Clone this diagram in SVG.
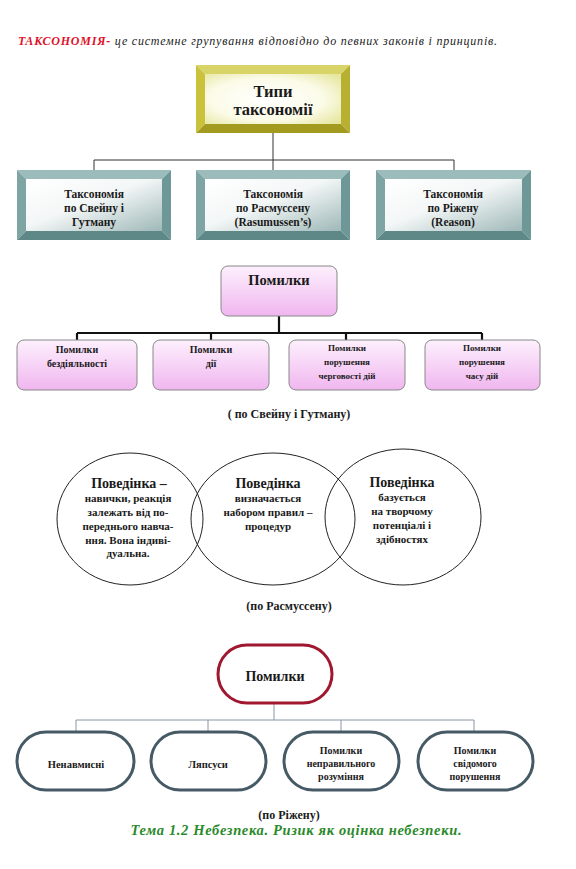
<svg xmlns="http://www.w3.org/2000/svg" width="576" height="869" viewBox="0 0 576 869">
<defs>
<linearGradient id="tealIn" x1="0" y1="0" x2="1" y2="1">
<stop offset="0" stop-color="#ffffff"/><stop offset="0.45" stop-color="#f4f7f7"/><stop offset="1" stop-color="#9fb8b8"/>
</linearGradient>
<radialGradient id="yelIn" cx="0.45" cy="0.5" r="0.7">
<stop offset="0" stop-color="#ffffff"/><stop offset="0.6" stop-color="#fbfbe8"/><stop offset="1" stop-color="#e6e6a0"/>
</radialGradient>
<linearGradient id="pink" x1="0" y1="0" x2="0" y2="1">
<stop offset="0" stop-color="#fdf0fd"/><stop offset="1" stop-color="#f0b6ef"/>
</linearGradient>
<style>
text{font-family:"Liberation Serif","Times New Roman",Times,"Noto Serif","DejaVu Serif",serif}
.t{font-weight:bold;fill:#1a1a1a;text-anchor:middle}
.ell{fill:none;stroke:#222;stroke-width:1}
.pk{fill:url(#pink);stroke:#888;stroke-width:1}
.rs{fill:#fff;stroke:#465a66;stroke-width:3}
</style>
</defs>

<text x="18" y="45" font-size="12" font-style="italic" textLength="479" lengthAdjust="spacing"><tspan fill="#e0102a" font-weight="bold">ТАКСОНОМІЯ-</tspan><tspan fill="#222"> це системне групування відповідно до певних законів і принципів.</tspan></text>

<g id="connectors">
<path d="M273 133V160M94 160H454M94 160V170M273 160V170M454 160V170" fill="none" stroke="#333" stroke-width="1"/>
<path d="M279 316V333M77 333H482M77 333V340M211 333V340M346 333V340M482 333V340" fill="none" stroke="#111" stroke-width="2.2"/>
<path d="M274 703V720M76 720H474M76 720V732M208 720V732M341 720V732M474 720V732" fill="none" stroke="#8a96a4" stroke-width="1"/>
</g>

<g id="types">
<polygon points="196,65 350,65 341,74 205,74" fill="#d8d468"/>
<polygon points="196,65 205,74 205,124 196,133" fill="#c9c23a"/>
<polygon points="350,65 350,133 341,124 341,74" fill="#b8b030"/>
<polygon points="196,133 205,124 341,124 350,133" fill="#a39a20"/>
<rect x="205" y="74" width="136" height="50" fill="url(#yelIn)"/>
<text class="t" x="273" y="97" font-size="16.5">Типи</text>
<text class="t" x="273" y="115" font-size="16.5">таксономії</text>
</g>

<g id="tax1">
<polygon points="17,170 171,170 162,179 26,179" fill="#9cbcbc"/>
<polygon points="17,170 26,179 26,231 17,240" fill="#7ea4a4"/>
<polygon points="171,170 171,240 162,231 162,179" fill="#6e9898"/>
<polygon points="17,240 26,231 162,231 171,240" fill="#5e8888"/>
<rect x="26" y="179" width="136" height="52" fill="url(#tealIn)"/>
<text class="t" x="94" y="198" font-size="11.5">Таксономія</text>
<text class="t" x="94" y="212" font-size="11.5">по Свейну  і</text>
<text class="t" x="94" y="226" font-size="11.5">Гутману</text>
</g>
<g id="tax2">
<polygon points="196,170 350,170 341,179 205,179" fill="#9cbcbc"/>
<polygon points="196,170 205,179 205,231 196,240" fill="#7ea4a4"/>
<polygon points="350,170 350,240 341,231 341,179" fill="#6e9898"/>
<polygon points="196,240 205,231 341,231 350,240" fill="#5e8888"/>
<rect x="205" y="179" width="136" height="52" fill="url(#tealIn)"/>
<text class="t" x="273" y="198" font-size="11.5">Таксономія</text>
<text class="t" x="273" y="212" font-size="11.5">по Расмуссену</text>
<text class="t" x="273" y="226" font-size="11.5">(Rasumussen’s)</text>
</g>
<g id="tax3">
<polygon points="376,170 531,170 522,179 385,179" fill="#9cbcbc"/>
<polygon points="376,170 385,179 385,231 376,240" fill="#7ea4a4"/>
<polygon points="531,170 531,240 522,231 522,179" fill="#6e9898"/>
<polygon points="376,240 385,231 522,231 531,240" fill="#5e8888"/>
<rect x="385" y="179" width="137" height="52" fill="url(#tealIn)"/>
<text class="t" x="453" y="198" font-size="11.5">Таксономія</text>
<text class="t" x="453" y="212" font-size="11.5">по Ріжену</text>
<text class="t" x="453" y="226" font-size="11.5">(Reason)</text>
</g>

<g id="errors1">
<rect class="pk" x="221" y="266" width="116" height="50" rx="7"/>
<text class="t" x="279" y="285" font-size="14.5">Помилки</text>
</g>
<g id="e1"><rect class="pk" x="17" y="340" width="120" height="50" rx="7"/>
<text class="t" x="77" y="353" font-size="10">Помилки</text><text class="t" x="77" y="367" font-size="10">бездіяльності</text></g>
<g id="e2"><rect class="pk" x="153" y="340" width="116" height="50" rx="7"/>
<text class="t" x="211" y="353" font-size="10">Помилки</text><text class="t" x="211" y="367" font-size="10">дії</text></g>
<g id="e3"><rect class="pk" x="289" y="340" width="116" height="50" rx="7"/>
<text class="t" x="347" y="351" font-size="9">Помилки</text><text class="t" x="347" y="365" font-size="9">порушення</text><text class="t" x="347" y="379" font-size="9">черговості дій</text></g>
<g id="e4"><rect class="pk" x="425" y="340" width="115" height="50" rx="7"/>
<text class="t" x="482" y="351" font-size="9">Помилки</text><text class="t" x="482" y="365" font-size="9">порушення</text><text class="t" x="482" y="379" font-size="9">часу дій</text></g>
<text class="t" x="289" y="418" font-size="12">( по Свейну і Гутману)</text>

<g id="venn1"><ellipse class="ell" cx="130" cy="519" rx="73" ry="66"/>
<text class="t" x="129" y="488" font-size="14">Поведінка –</text>
<text class="t" x="128" y="502" font-size="11">навички, реакція</text>
<text class="t" x="128" y="516" font-size="11">залежать від  по-</text>
<text class="t" x="128" y="530" font-size="11">переднього навча-</text>
<text class="t" x="128" y="544" font-size="11">ння. Вона індиві-</text>
<text class="t" x="128" y="557" font-size="11">дуальна.</text></g>
<g id="venn2"><ellipse class="ell" cx="273" cy="519" rx="82" ry="66"/>
<text class="t" x="268" y="488" font-size="14">Поведінка</text>
<text class="t" x="268" y="502" font-size="11">визначається</text>
<text class="t" x="268" y="516" font-size="11">набором правил –</text>
<text class="t" x="268" y="530" font-size="11">процедур</text></g>
<g id="venn3"><ellipse class="ell" cx="403" cy="517" rx="78" ry="68"/>
<text class="t" x="402" y="487" font-size="14">Поведінка</text>
<text class="t" x="402" y="501" font-size="11">базується</text>
<text class="t" x="402" y="515" font-size="11">на творчому</text>
<text class="t" x="402" y="529" font-size="11">потенціалі і</text>
<text class="t" x="402" y="543" font-size="11">здібностях</text></g>
<text class="t" x="289" y="610" font-size="12">(по Расмуссену)</text>

<g id="errors2"><rect x="218" y="645" width="114" height="58" rx="29" fill="#fff" stroke="#a01830" stroke-width="3"/>
<text class="t" x="275" y="681" font-size="14">Помилки</text></g>
<g id="r1"><rect class="rs" x="17" y="732" width="117" height="58" rx="29"/>
<text class="t" x="76" y="768" font-size="10.5">Ненавмисні</text></g>
<g id="r2"><rect class="rs" x="151" y="732" width="115" height="58" rx="29"/>
<text class="t" x="208" y="768" font-size="10.5">Ляпсуси</text></g>
<g id="r3"><rect class="rs" x="284" y="732" width="115" height="58" rx="29"/>
<text class="t" x="341" y="754" font-size="10">Помилки</text><text class="t" x="341" y="767" font-size="10">неправильного</text><text class="t" x="341" y="780" font-size="10">розуміння</text></g>
<g id="r4"><rect class="rs" x="418" y="732" width="115" height="58" rx="29"/>
<text class="t" x="475" y="754" font-size="10">Помилки</text><text class="t" x="475" y="767" font-size="10">свідомого</text><text class="t" x="475" y="780" font-size="10">порушення</text></g>
<text class="t" x="289" y="819" font-size="12">(по Ріжену)</text>
<text x="296" y="835" font-size="14.5" font-weight="bold" font-style="italic" fill="#2a8a2a" text-anchor="middle" textLength="331" lengthAdjust="spacing">Тема 1.2 Небезпека. Ризик як оцінка небезпеки.</text>
</svg>
